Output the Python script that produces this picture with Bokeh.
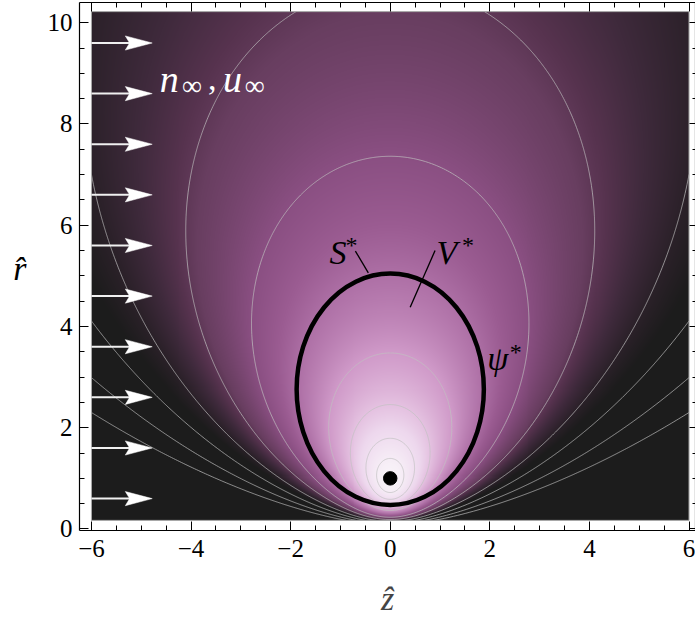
import numpy as np
from bokeh.plotting import figure
from bokeh.models import Range1d, LinearAxis, FixedTicker, Label
from bokeh.embed import file_html
from bokeh.resources import INLINE

# ---------------- data ----------------
x_major_ticks = [-6, -4, -2, 0, 2, 4, 6]
x_tick_labels = ["\u22126", "\u22124", "\u22122", "0", "2", "4", "6"]
x_minor_ticks = [-6.0, -5.5, -5.0, -4.5, -4.0, -3.5, -3.0, -2.5, -2.0, -1.5, -1.0, -0.5, 0.0,
                 0.5, 1.0, 1.5, 2.0, 2.5, 3.0, 3.5, 4.0, 4.5, 5.0, 5.5, 6.0]
y_major_ticks = [0, 2, 4, 6, 8, 10]
y_tick_labels = ["0", "2", "4", "6", "8", "10"]
y_minor_ticks = [0.0, 0.5, 1.0, 1.5, 2.0, 2.5, 3.0, 3.5, 4.0, 4.5, 5.0, 5.5, 6.0, 6.5,
                 7.0, 7.5, 8.0, 8.5, 9.0, 9.5, 10.0]
y_title_position = [5.15]
y_title = ["r\u0302"]
x_title = "\u1e91"

# density field shown in the background (fitted to the drawn contours)
field_z_extent = [-6.0, 6.0]
field_r_extent = [0.17, 10.22]
field_core = 0.49
field_power = 1.5

# contour levels
contour_levels = [0.0196, 0.0292, 0.0433, 0.062, 0.0924, 0.134, 0.271, 0.362, 0.451, 0.512]

# colour scale (field value -> colour)
color_stop_values = [0.0, 0.05, 0.062, 0.075, 0.088, 0.0974, 0.133, 0.163, 0.194, 0.269,
                     0.357, 0.42, 0.525, 0.56]
color_stop_colors = ["#1c1c1c", "#1c1c1c", "#2b2129", "#3f2a3c", "#57334f", "#683e60",
                     "#8a4f82", "#9b5c92", "#ae70a6", "#d09ac9", "#e4c0e0", "#eed8ee",
                     "#f7eff7", "#faf5fa"]

# control surface S*
surface_z = [0.0]
surface_r = [2.76]
surface_width = [3.76]
surface_height = [4.57]

# particle
particle_z = [0.0]
particle_r = [1.0]
particle_radius = 0.135

# inflow arrows
arrow_r = [0.6, 1.6, 2.6, 3.6, 4.6, 5.6, 6.6, 7.6, 8.6, 9.6]
arrow_z_start = -6.0
arrow_z_tip = -4.78

# ---------------- figure ----------------
p = figure(frame_width=616, frame_height=528,
           x_range=Range1d(-6.24, 6.13), y_range=Range1d(-0.03, 10.4),
           output_backend="svg", toolbar_location=None,
           min_border_left=79, min_border_right=0, min_border_top=2, min_border_bottom=88)
p.grid.visible = False
p.outline_line_color = None
p.background_fill_color = "white"
p.border_fill_color = "white"

# background field image
nz, nr = 601, 503
zs = np.linspace(field_z_extent[0], field_z_extent[1], nz)
rs = np.linspace(field_r_extent[0], field_r_extent[1], nr)
Zg, Rg = np.meshgrid(zs, rs)
F = Rg ** 2 / (Zg ** 2 + Rg ** 2 + field_core) ** field_power

def hex_to_rgb(h):
    return [int(h[1:3], 16), int(h[3:5], 16), int(h[5:7], 16)]

stops_rgb = np.array([hex_to_rgb(c) for c in color_stop_colors], dtype=float)
img = np.empty((nr, nz), dtype=np.uint32)
view = img.view(dtype=np.uint8).reshape((nr, nz, 4))
for ch in range(3):
    view[:, :, ch] = np.clip(np.interp(F, color_stop_values, stops_rgb[:, ch]), 0, 255).astype(np.uint8)
view[:, :, 3] = 255
p.image_rgba(image=[img], x=field_z_extent[0], y=field_r_extent[0],
             dw=field_z_extent[1] - field_z_extent[0], dh=field_r_extent[1] - field_r_extent[0])

# contour lines
p.contour(x=zs, y=rs, z=F, levels=contour_levels,
          line_color="#c0c0c0", line_alpha=0.72, line_width=1)

# border of the density image
p.rect(x=[(field_z_extent[0] + field_z_extent[1]) / 2], y=[(field_r_extent[0] + field_r_extent[1]) / 2],
       width=[field_z_extent[1] - field_z_extent[0]], height=[field_r_extent[1] - field_r_extent[0]],
       fill_color=None, line_color="#a8a8a8", line_width=1)

# control surface and particle
p.ellipse(x=surface_z, y=surface_r, width=surface_width, height=surface_height,
          fill_color=None, line_color="black", line_width=4.5)
p.circle(x=particle_z, y=particle_r, radius=particle_radius, fill_color="black", line_color="black")

# inflow arrows
head_len = 0.54
head_half = 0.14
n_arr = len(arrow_r)
p.segment(x0=[arrow_z_start] * n_arr, y0=arrow_r,
          x1=[arrow_z_tip - 0.8 * head_len] * n_arr, y1=arrow_r,
          line_color="#f0f0f0", line_width=2)
head_xs = [[arrow_z_tip, arrow_z_tip - head_len, arrow_z_tip - 0.84 * head_len, arrow_z_tip - head_len]
           for _ in arrow_r]
head_ys = [[r, r + head_half, r, r - head_half] for r in arrow_r]
p.patches(xs=head_xs, ys=head_ys, fill_color="white", line_color="white", line_width=0.5)

# leader lines
p.segment(x0=[-0.70, 0.90], y0=[5.49, 5.50], x1=[-0.44, 0.40], y1=[5.06, 4.38],
          line_color="black", line_width=1.3)

# ---------------- text ----------------
serif = "Liberation Serif"

def add_label(x, y, text, size, color="black", style="italic"):
    p.add_layout(Label(x=x, y=y, text=text, text_font=serif, text_font_size=size,
                       text_font_style=style, text_color=color,
                       text_align="left", text_baseline="alphabetic"))

add_label(-4.63, 8.89, "n", "38px", "white")
add_label(-4.18, 8.77, "\u221e", "28px", "white", "normal")
add_label(-3.66, 8.89, ",", "34px", "white", "normal")
add_label(-3.36, 8.89, "u", "38px", "white")
add_label(-2.92, 8.77, "\u221e", "28px", "white", "normal")

add_label(-1.22, 5.46, "S", "34px")
add_label(-0.90, 5.60, "*", "24px", style="normal")
add_label(0.93, 5.46, "V", "34px")
add_label(1.44, 5.60, "*", "24px", style="normal")
add_label(1.95, 3.36, "\u03c8", "34px")
add_label(2.40, 3.50, "*", "24px", style="normal")

# ---------------- axes ----------------
def style_axis(ax, labels, ticks, tick_in=9):
    ax.major_tick_in = tick_in
    ax.major_tick_out = 0
    ax.minor_tick_in = 5
    ax.minor_tick_out = 0
    ax.axis_line_color = "black"
    ax.axis_line_width = 1.2
    ax.major_tick_line_color = "black"
    ax.minor_tick_line_color = "black"
    ax.major_label_text_font = serif
    ax.major_label_text_font_size = "25px"
    ax.major_label_text_color = "black"
    ax.major_label_overrides = {t: l for t, l in zip(ticks, labels)}

p.xaxis.ticker = FixedTicker(ticks=x_major_ticks, minor_ticks=x_minor_ticks)
style_axis(p.xaxis[0], x_tick_labels, x_major_ticks)
p.xaxis.major_label_standoff = 9
p.xaxis.axis_label = x_title
p.xaxis.axis_label_text_font = serif
p.xaxis.axis_label_text_font_style = "italic"
p.xaxis.axis_label_text_font_size = "34px"
p.xaxis.axis_label_text_line_height = 0.9
p.xaxis.axis_label_standoff = 20

p.yaxis.ticker = FixedTicker(ticks=y_major_ticks, minor_ticks=y_minor_ticks)
style_axis(p.yaxis[0], y_tick_labels, y_major_ticks)
p.yaxis.major_label_standoff = 7

# horizontal y title, drawn as the single label of an extra left axis
title_axis = LinearAxis(ticker=FixedTicker(ticks=y_title_position, minor_ticks=[]),
                        major_label_overrides={y_title_position[0]: y_title[0]},
                        major_label_text_font=serif, major_label_text_font_style="italic",
                        major_label_text_font_size="34px", major_label_text_color="black",
                        major_label_standoff=18, axis_line_color=None,
                        major_tick_line_color=None, minor_tick_line_color=None,
                        major_tick_in=0, major_tick_out=0, minor_tick_in=0, minor_tick_out=0)
p.add_layout(title_axis, "left")

top_axis = LinearAxis(ticker=FixedTicker(ticks=x_major_ticks, minor_ticks=x_minor_ticks))
style_axis(top_axis, ["" for _ in x_major_ticks], x_major_ticks)
top_axis.major_label_text_font_size = "1px"
top_axis.major_label_standoff = 0
p.add_layout(top_axis, "above")

right_axis = LinearAxis(ticker=FixedTicker(ticks=y_major_ticks, minor_ticks=y_minor_ticks))
style_axis(right_axis, ["" for _ in y_major_ticks], y_major_ticks, tick_in=6)
right_axis.minor_tick_in = 3
right_axis.major_label_text_font_size = "1px"
right_axis.major_label_standoff = 0
p.add_layout(right_axis, "right")

open("out.html", "w").write(file_html(p, INLINE))
